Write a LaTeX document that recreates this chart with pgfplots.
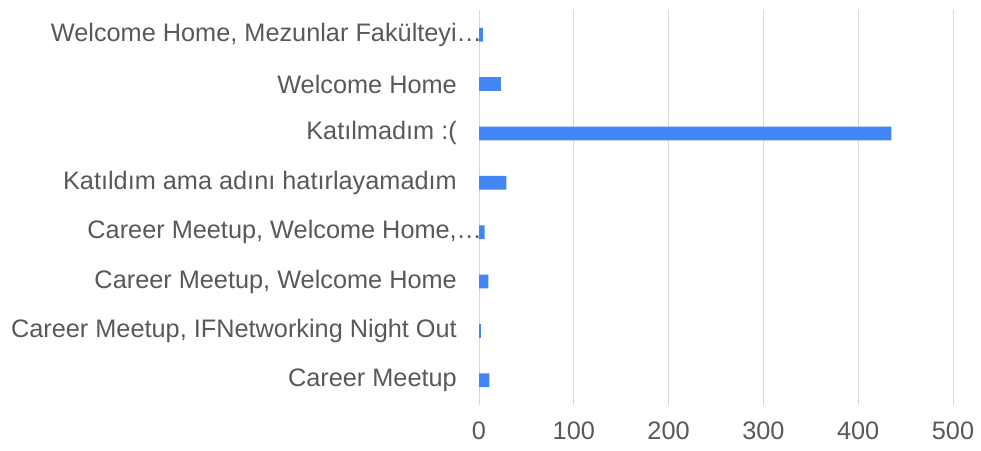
\documentclass[border=0pt]{standalone}
\usepackage{fontspec}
\setmainfont{Liberation Sans}
\usepackage{pgfplots}
\pgfplotsset{compat=1.18}
\definecolor{barblue}{HTML}{4285F4}
\definecolor{txtgray}{HTML}{595959}
\definecolor{gridgray}{HTML}{D9D9D9}

\begin{document}
\begin{tikzpicture}[x=1pt,y=1pt]
\useasboundingbox (0,0) rectangle (981,450);
\begin{axis}[
    at={(479pt,45pt)}, anchor=south west,
    scale only axis,
    width=474pt, height=395pt,
    xbar,
    bar width=13.7pt,
    xmin=0, xmax=500,
    ymin=-0.5, ymax=7.5,
    axis line style={draw=none},
    xmajorgrids,
    grid style={gridgray, line width=1pt},
    major tick length=0pt,
    xtick={0,100,...,500},
    ytick={0,...,7},
    yticklabels={
        Career Meetup,
        {Career Meetup, IFNetworking Night Out},
        {Career Meetup, Welcome Home},
        {Career Meetup, Welcome Home,\rlap{…}},
        Katıldım ama adını hatırlayamadım,
        Katılmadım :(,
        Welcome Home,
        {Welcome Home, Mezunlar Fakülteyi\rlap{…}}
    },
    /pgf/number format/assume math mode=true,
    tick label style={font=\fontsize{25.3}{29}\selectfont, text=txtgray},
    yticklabel style={anchor=east, inner sep=0pt, xshift=-22pt},
    xticklabel style={anchor=north, inner sep=0pt, yshift=-17pt},
]
\addplot[fill=barblue, draw=none] coordinates {
    (11,0) (2,1) (10,2) (6,3) (29,4) (435,5) (23,6) (4,7)
};
\end{axis}
\end{tikzpicture}
\end{document}
